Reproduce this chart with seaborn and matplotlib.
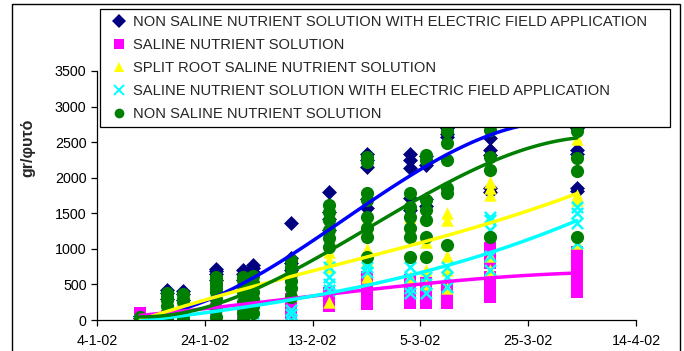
import pandas as pd
import numpy as np
import matplotlib
matplotlib.use('Agg')
import matplotlib.pyplot as plt
import matplotlib.dates as mdates
import matplotlib.patches as mpatches
from matplotlib.lines import Line2D
import seaborn as sns

# Sampling dates (one column of points per date)
dates = ['2002-01-12', '2002-01-17', '2002-01-20', '2002-01-26', '2002-01-31',
         '2002-02-02', '2002-02-09', '2002-02-16', '2002-02-23', '2002-03-03',
         '2002-03-06', '2002-03-10', '2002-03-18', '2002-04-03']

# Readings per date, gr/plant
non_saline_ef = [[60, 30], [420, 380, 300], [410, 360, 280], [720, 690, 650, 560],
                 [700, 650, 560], [780, 730, 680], [1360, 870, 800, 700],
                 [1800, 1520, 1420, 1260], [2330, 2250, 2150, 1700, 1570],
                 [2330, 2250, 2130, 1720, 1550], [2300, 2180, 1700, 1600],
                 [2700, 2620, 2570], [2560, 2390, 2320, 1850, 1800],
                 [2700, 2390, 2330, 1850, 1820]]
saline = [[100], [50], [40], [150], [100], [150], [300, 200, 100], [380, 280, 190],
          [600, 470, 350, 230], [560, 450, 350, 240], [520, 400, 300, 240],
          [460, 350, 240], [1010, 940, 800, 600, 450, 320], [960, 800, 650, 500, 390]]
split_root = [[30], [250, 200], [250, 200], [400, 350, 250], [300, 200], [450, 350],
              [600, 500, 350], [950, 840, 750, 250], [1400, 1000, 850, 600],
              [1450, 1200, 900, 600], [1450, 1100, 700, 500], [1500, 1400, 900, 700, 450],
              [1940, 1850, 1760, 900, 700], [2550, 1760, 1690, 1080]]
saline_ef = [[0], [0, 20], [0], [100, 0], [50, 0], [100, 0], [140, 90, 0],
             [745, 600, 500, 420], [800, 750, 675], [740, 600, 450, 380],
             [600, 500, 380], [740, 600, 460], [1450, 1400, 1260, 900, 700],
             [1590, 1500, 1360, 1080]]
non_saline = [[20, 40], [380, 330, 280, 200, 90, 20], [370, 300, 250, 150, 30],
              [600, 550, 500, 450, 400, 300, 150, 40], [600, 560, 480, 400, 250, 100, 0],
              [620, 520, 400, 300, 200, 100], [840, 750, 650, 550, 450, 330],
              [1615, 1520, 1405, 1265, 1150, 1030],
              [2290, 2220, 1780, 1690, 1450, 1300, 1170, 890],
              [1780, 1590, 1450, 1300, 1170, 890],
              [2320, 2250, 1690, 1550, 1400, 1170, 890],
              [2650, 2490, 2250, 1850, 1780, 1060], [2670, 2290, 2110, 1170],
              [2650, 2275, 2090, 1170]]

# Trend line readings (polynomial trendlines in the original)
trend_dates = ['2002-01-12', '2002-01-26', '2002-02-09', '2002-02-16', '2002-02-23',
               '2002-03-03', '2002-03-10', '2002-03-18', '2002-04-03']
trend_non_saline_ef = [50, 330, 900, 1250, 1650, 2050, 2320, 2580, 2780]
trend_saline = [70, 160, 310, 370, 430, 480, 530, 600, 660]
trend_split_root = [20, 260, 640, 790, 900, 1010, 1165, 1380, 1780]
trend_saline_ef = [0, 80, 300, 410, 500, 600, 750, 960, 1400]
trend_non_saline = [30, 250, 670, 980, 1265, 1590, 1920, 2280, 2540]

labels = ['NON SALINE NUTRIENT SOLUTION WITH ELECTRIC FIELD APPLICATION',
          'SALINE NUTRIENT SOLUTION',
          'SPLIT ROOT SALINE NUTRIENT SOLUTION',
          'SALINE NUTRIENT SOLUTION WITH ELECTRIC FIELD APPLICATION',
          'NON SALINE NUTRIENT SOLUTION']

series = [non_saline_ef, saline, split_root, saline_ef, non_saline]
trends = [trend_non_saline_ef, trend_saline, trend_split_root, trend_saline_ef, trend_non_saline]
marker_cols = ['#000080', '#FF00FF', '#FFFF00', '#00FFFF', '#008000']
line_cols = ['#0000FF', '#FF00FF', '#FFFF00', '#00FFFF', '#008000']
markers = ['D', 's', '^', 'x', 'o']
sizes = [58, 68, 80, 65, 90]

date_num = mdates.date2num(pd.to_datetime(dates))
trend_num = mdates.date2num(pd.to_datetime(trend_dates))

sns.set_style('white')
plt.rcParams['font.family'] = ['Liberation Sans', 'DejaVu Sans']

fig = plt.figure(figsize=(6.84, 3.51), dpi=100)
ax = fig.add_axes([97/684, 1 - 320/351, 539/684, 249/351])

for vals, col, mk, sz in zip(series, marker_cols, markers, sizes):
    xs = [date_num[i] for i, v in enumerate(vals) for _ in v]
    ys = [y for v in vals for y in v]
    if mk == 'x':
        sns.scatterplot(x=xs, y=ys, marker=mk, color=col, s=sz, linewidth=1.8, ax=ax, zorder=2)
    else:
        sns.scatterplot(x=xs, y=ys, marker=mk, color=col, s=sz, linewidth=0, ax=ax, zorder=2)

for tv, col in zip(trends, line_cols):
    sns.regplot(x=trend_num, y=tv, order=3, scatter=False, ci=None, truncate=True,
                line_kws={'color': col, 'lw': 2.5, 'zorder': 3}, ax=ax)

ax.set_xlim(mdates.date2num(pd.Timestamp('2002-01-04')), mdates.date2num(pd.Timestamp('2002-04-14')))
ax.set_ylim(0, 3500)
ax.set_xticks(mdates.date2num(pd.date_range('2002-01-04', '2002-04-14', freq='20D')))
ax.xaxis.set_major_formatter(plt.FuncFormatter(
    lambda v, p: '{d.day}-{d.month}-{d:%y}'.format(d=mdates.num2date(v))))
ax.set_yticks(range(0, 3501, 500))

for s in ['top', 'right']:
    ax.spines[s].set_visible(False)
for s in ['left', 'bottom']:
    ax.spines[s].set_color('black')
    ax.spines[s].set_linewidth(0.9)
ax.tick_params(axis='both', direction='out', length=4, width=0.9, color='black',
               labelsize=10.3, labelcolor='black', left=True, bottom=True)
ax.tick_params(axis='x', pad=6)

ax.set_xlabel('')
ax.set_ylabel('gr/φυτό', fontsize=11.5, fontweight='bold')
ax.yaxis.set_label_coords(-0.115, 0.69)

handles = [Line2D([], [], linestyle='none', marker=mk, color=col, markersize=7,
                  markeredgewidth=1.4 if mk == 'x' else 0)
           for mk, col in zip(markers, marker_cols)]
leg = fig.legend(handles, labels, loc='upper left',
                 bbox_to_anchor=(100/684, 1 - 9/351, 570/684, 0), mode='expand',
                 fontsize=10.6, frameon=True, fancybox=False, framealpha=1,
                 edgecolor='black', handlelength=1.8, handletextpad=0.05,
                 labelspacing=0.62, borderpad=0.4, borderaxespad=0)
leg.get_frame().set_linewidth(0.9)
leg.set_zorder(10)

fig.patches.append(mpatches.Rectangle((12/684, -0.05), 668/684, 1.05 - 4/351,
                                      transform=fig.transFigure, fill=False,
                                      edgecolor='black', linewidth=1))

fig.savefig('out.png', dpi=100)
